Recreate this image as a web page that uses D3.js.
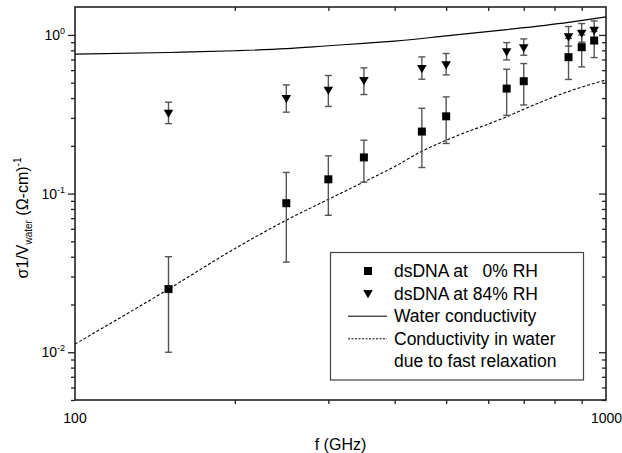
<!DOCTYPE html>
<html>
<head>
<meta charset="utf-8">
<script src="https://cdn.jsdelivr.net/npm/d3@7"></script>
<style>
  body { margin: 0; background: #fff; }
  svg text { font-family: "Liberation Sans", Arial, Helvetica, sans-serif; fill: #000; }
</style>
</head>
<body>
<div id="chart"></div>
<script>
/* CONSTANTS AND GLOBALS */
const width = 622,
  height = 453,
  margin = { top: 7, bottom: 53, left: 75, right: 16 };

// frequencies (GHz) of the measurements
const freqs = [150, 250, 300, 350, 450, 500, 650, 700, 850, 900, 950];

// dsDNA at 0% RH : value, lower / upper error bar
const dry = [0.025, 0.087, 0.123, 0.169, 0.246, 0.307, 0.459, 0.511, 0.724, 0.837, 0.922];
const dryLo = [0.010, 0.037, 0.073, 0.118, 0.146, 0.207, 0.311, 0.362, 0.524, 0.629, 0.72];
const dryHi = [0.040, 0.136, 0.173, 0.217, 0.345, 0.407, 0.608, 0.660, 0.95, 1.0, 1.05];

// dsDNA at 84% RH
const wet = [0.321, 0.397, 0.448, 0.516, 0.614, 0.647, 0.781, 0.828, 0.971, 1.025, 1.07];
const wetLo = [0.276, 0.326, 0.354, 0.421, 0.526, 0.560, 0.696, 0.745, 0.85, 0.90, 0.94];
const wetHi = [0.377, 0.484, 0.555, 0.620, 0.727, 0.764, 0.895, 0.944, 1.13, 1.18, 1.225];

// water conductivity curve
const waterF = [100, 150, 200, 250, 300, 350, 400, 500, 650, 850, 1000];
const waterV = [0.756, 0.775, 0.795, 0.82, 0.855, 0.885, 0.915, 0.986, 1.08, 1.2, 1.298];

// conductivity in water due to fast relaxation
const fastF = [100, 150, 200, 250, 300, 350, 400, 450, 500, 650, 700, 850, 1000];
const fastV = [0.01125, 0.025, 0.045, 0.068, 0.092, 0.1185, 0.148, 0.185, 0.217, 0.305, 0.34, 0.44, 0.521];

const xMinor = [200, 300, 400, 500, 600, 700, 800, 900];
const yMajor = [0.01, 0.1, 1];
const yExp = ["-2", "-1", "0"];
const yMinor = [];
[0.001, 0.01, 0.1, 1].forEach(p => d3.range(2, 10).forEach(k => {
  const v = +(k * p).toPrecision(3);
  if (v >= 0.005 && v <= 1.5) yMinor.push(v);
}));

const legendItems = ["dsDNA at   0% RH", "dsDNA at 84% RH", "Water conductivity",
  "Conductivity in water", "due to fast relaxation"];

/* SCALES */
const xScale = d3.scaleLog().domain([100, 1000]).range([margin.left, width - margin.right]);
const yScale = d3.scaleLog().domain([0.005, 1.5]).range([height - margin.bottom, margin.top]);

const svg = d3.select("#chart").append("svg")
  .attr("width", width)
  .attr("height", height);

/* AXES */
const axisColor = "#222";
function styleAxis(g) {
  g.select(".domain").remove();
  g.selectAll(".tick line").attr("stroke", axisColor).attr("stroke-width", 1.3);
}

// bottom
svg.append("g").attr("transform", `translate(0,${yScale.range()[0]})`)
  .call(d3.axisBottom(xScale).tickValues(xMinor).tickSize(4).tickFormat(""))
  .call(styleAxis);
// top (inward)
svg.append("g").attr("transform", `translate(0,${margin.top})`)
  .call(d3.axisBottom(xScale).tickValues(xMinor).tickSize(4).tickFormat(""))
  .call(styleAxis);
// left major/minor
svg.append("g").attr("transform", `translate(${margin.left},0)`)
  .call(d3.axisLeft(yScale).tickValues(yMajor).tickSize(7).tickFormat(""))
  .call(styleAxis);
svg.append("g").attr("transform", `translate(${margin.left},0)`)
  .call(d3.axisLeft(yScale).tickValues(yMinor).tickSize(4).tickFormat(""))
  .call(styleAxis);
// right (inward)
svg.append("g").attr("transform", `translate(${width - margin.right},0)`)
  .call(d3.axisLeft(yScale).tickValues(yMajor).tickSize(7).tickFormat(""))
  .call(styleAxis);
svg.append("g").attr("transform", `translate(${width - margin.right},0)`)
  .call(d3.axisLeft(yScale).tickValues(yMinor).tickSize(4).tickFormat(""))
  .call(styleAxis);

// frame
svg.append("rect")
  .attr("x", margin.left).attr("y", margin.top)
  .attr("width", width - margin.left - margin.right)
  .attr("height", height - margin.top - margin.bottom)
  .attr("fill", "none").attr("stroke", axisColor).attr("stroke-width", 1.6);

// tick labels
const yLab = svg.append("g").selectAll("text")
  .data(yMajor)
  .join("text")
  .attr("x", 65)
  .attr("y", d => yScale(d) + 5)
  .attr("text-anchor", "end")
  .attr("font-size", 14);
yLab.append("tspan").text("10");
yLab.append("tspan").attr("dy", -6).attr("font-size", 9).text((d, i) => yExp[i]);

svg.append("g").selectAll("text")
  .data([100, 1000])
  .join("text")
  .attr("x", d => xScale(d))
  .attr("y", 423)
  .attr("text-anchor", d => d === 1000 ? "start" : "middle")
  .attr("dx", d => d === 1000 ? -15 : 0)
  .attr("font-size", 14)
  .text(d => d);

// axis titles
svg.append("text")
  .attr("x", (xScale.range()[0] + xScale.range()[1]) / 2)
  .attr("y", 450)
  .attr("text-anchor", "middle")
  .attr("font-size", 16)
  .text("f (GHz)");

const yTitle = svg.append("text")
  .attr("transform", "translate(28,218) rotate(-90)")
  .attr("text-anchor", "middle")
  .attr("font-size", 16);
yTitle.append("tspan").text("σ1/V");
yTitle.append("tspan").attr("dy", 4).attr("font-size", 10).text("water");
yTitle.append("tspan").attr("dy", -4).text(" (Ω-cm)");
yTitle.append("tspan").attr("dy", -7).attr("font-size", 10).text("-1");

/* LINES */
const line = d3.line()
  .x(d => xScale(d[0]))
  .y(d => yScale(d[1]))
  .curve(d3.curveMonotoneX);

svg.append("path")
  .datum(d3.zip(waterF, waterV))
  .attr("d", line)
  .attr("fill", "none").attr("stroke", "#000").attr("stroke-width", 1.2);

svg.append("path")
  .datum(d3.zip(fastF, fastV))
  .attr("d", line)
  .attr("fill", "none").attr("stroke", "#000").attr("stroke-width", 1.1)
  .attr("stroke-dasharray", "3,2");

/* ERROR BARS + MARKERS */
function errorBars(vals, lo, hi) {
  const g = svg.append("g").attr("stroke", "#555").attr("stroke-width", 1.4);
  const rows = d3.range(freqs.length);
  g.selectAll("line.bar").data(rows).join("line")
    .attr("x1", i => xScale(freqs[i])).attr("x2", i => xScale(freqs[i]))
    .attr("y1", i => yScale(lo[i])).attr("y2", i => yScale(hi[i]));
  [lo, hi].forEach(arr => {
    g.append("g").selectAll("line").data(rows).join("line")
      .attr("x1", i => xScale(freqs[i]) - 3.5).attr("x2", i => xScale(freqs[i]) + 3.5)
      .attr("y1", i => yScale(arr[i])).attr("y2", i => yScale(arr[i]));
  });
}
errorBars(dry, dryLo, dryHi);
errorBars(wet, wetLo, wetHi);

const square = d3.symbol().type(d3.symbolSquare).size(64);
const tri = "M-4.8,-3.6L4.8,-3.6L0,4.6Z";

svg.append("g").selectAll("path")
  .data(d3.zip(freqs, dry))
  .join("path")
  .attr("transform", d => `translate(${xScale(d[0])},${yScale(d[1])})`)
  .attr("d", square)
  .attr("fill", "#000");

svg.append("g").selectAll("path")
  .data(d3.zip(freqs, wet))
  .join("path")
  .attr("transform", d => `translate(${xScale(d[0])},${yScale(d[1])})`)
  .attr("d", tri)
  .attr("fill", "#000");

/* LEGEND */
const lg = svg.append("g");
lg.append("rect")
  .attr("x", 330.5).attr("y", 252.5)
  .attr("width", 253).attr("height", 127.5)
  .attr("fill", "#fff").attr("stroke", "#444").attr("stroke-width", 1.2);

const rowY = i => 277 + i * 22.6;
lg.selectAll("text")
  .data(legendItems)
  .join("text")
  .attr("x", 394)
  .attr("y", (d, i) => rowY(i))
  .attr("font-size", 17.5)
  .style("white-space", "pre")
  .text(d => d);

lg.append("path")
  .attr("transform", `translate(368,${rowY(0) - 6})`)
  .attr("d", square).attr("fill", "#000");
lg.append("path")
  .attr("transform", `translate(368,${rowY(1) - 6})`)
  .attr("d", tri).attr("fill", "#000");
lg.append("line")
  .attr("x1", 348).attr("x2", 387)
  .attr("y1", rowY(2) - 6).attr("y2", rowY(2) - 6)
  .attr("stroke", "#000").attr("stroke-width", 1);
lg.append("line")
  .attr("x1", 348).attr("x2", 387)
  .attr("y1", rowY(3) - 6).attr("y2", rowY(3) - 6)
  .attr("stroke", "#000").attr("stroke-width", 1)
  .attr("stroke-dasharray", "2,1.5");
</script>
</body>
</html>
